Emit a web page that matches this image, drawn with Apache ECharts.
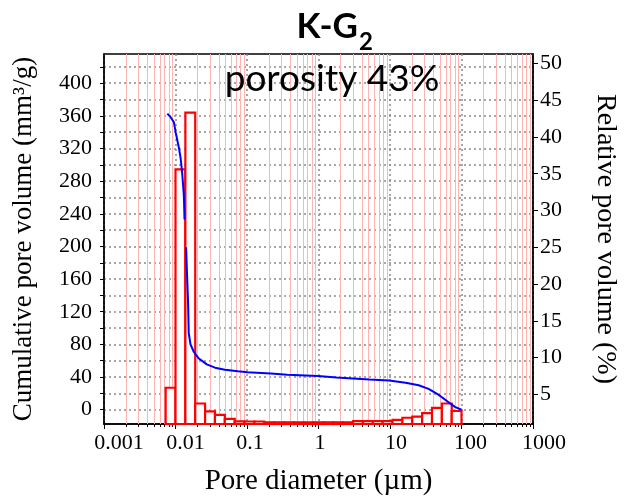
<!DOCTYPE html>
<html>
<head>
<meta charset="utf-8">
<script src="https://cdn.jsdelivr.net/npm/echarts@6/dist/echarts.min.js"></script>
<style>
  html, body { margin: 0; padding: 0; background: #fff; }
  #chart { width: 627px; height: 501px; }
</style>
</head>
<body>
<div id="chart"></div>
<script>
// Histogram bins of pore diameter (µm): lower / upper edge of each bar
const binLower = [0.00728, 0.01, 0.01374, 0.01888, 0.02594, 0.03564, 0.04897, 0.0673, 0.0924, 0.127,
  0.1745, 0.2397, 0.329, 0.453, 0.622, 0.854, 1.174, 1.613, 2.216, 3.045,
  4.184, 5.749, 7.90, 10.85, 14.91, 20.49, 28.15, 38.68, 53.14, 73.02];
const binUpper = [0.01, 0.01374, 0.01888, 0.02594, 0.03564, 0.04897, 0.0673, 0.0924, 0.127, 0.1745,
  0.2397, 0.329, 0.453, 0.622, 0.854, 1.174, 1.613, 2.216, 3.045, 4.184,
  5.749, 7.90, 10.85, 14.91, 20.49, 28.15, 38.68, 53.14, 73.02, 100];
// Relative pore volume (%) of each bin
const relativeVolume = [5.9, 35.6, 43.3, 3.76, 2.69, 2.21, 1.67, 1.33, 1.31, 1.31,
  1.2, 1.2, 1.2, 1.2, 1.2, 1.2, 1.2, 1.2, 1.2, 1.35,
  1.35, 1.35, 1.35, 1.53, 1.82, 1.98, 2.45, 3.15, 3.76, 2.74];

// Cumulative intrusion curve: pore diameter (µm) and cumulative volume (mm³/g)
const cumDiameter = [0.00769, 0.0086, 0.0095, 0.01005, 0.0112, 0.0118, 0.0124, 0.0131, 0.01337, 0.0137,
  0.01406, 0.0145, 0.0150, 0.0153, 0.0162, 0.0180, 0.0210, 0.0274, 0.0357, 0.0491,
  0.075, 0.102, 0.216, 0.366, 0.98, 1.79, 5.15, 9.7, 16.5, 25.2,
  34.6, 47.5, 65.3, 80.7, 100];
const cumVolume = [362.7, 358, 352, 340, 320, 308, 290, 262, 233, '-',
  199, 166, 130, 94, 80, 71, 63, 55.5, 51.5, 49,
  47, 46, 44.4, 42.8, 41.2, 39.6, 37.1, 35.7, 33, 29.9,
  25.5, 18.5, 9.5, 3.5, 0];

// Axis tick labels
const xTickLabels = ['0.001', '0.01', '0.1', '1', '10', '100', '1000'];
const leftTickValues = [0, 40, 80, 120, 160, 200, 240, 280, 320, 360, 400];
const leftGridValues = [0, 20, 40, 60, 80, 100, 120, 140, 160, 180, 200, 220, 240, 260, 280, 300, 320, 340, 360, 380, 400, 420];
const rightTickValues = [5, 10, 15, 20, 25, 30, 35, 40, 45, 50];

// Axis ranges
const X_MIN = 0.001, X_MAX = 1000;
const LEFT_MIN = -17.5, LEFT_MAX = 435.7;
const RIGHT_MIN = 0.97, RIGHT_MAX = 51.28;

// light red minor grid lines at 2..9 of each decade
const minorX = [];
for (let e = -3; e < 3; e++) {
  for (let k = 2; k <= 9; k++) minorX.push([+(k * Math.pow(10, e)).toPrecision(3), 0]);
}

// the diameter labels sit a little right of their ticks; a left pad shifts each one
const xLabelPad = [30, 20, 6, 3, 12, 18, 22];
const xLabelRich = {};
xLabelPad.forEach((p, i) => {
  xLabelRich['t' + i] = { fontFamily: 'Liberation Serif', fontSize: 22, color: '#000', padding: [0, 0, 0, p] };
});

const serif = 'Liberation Serif';
const chart = echarts.init(document.getElementById('chart'));

chart.setOption({
  animation: false,
  backgroundColor: '#fff',
  grid: {
    left: 104, right: 88, top: 54, bottom: 72.5,
    show: true, borderColor: '#000', borderWidth: 1.5, backgroundColor: 'transparent'
  },
  xAxis: [{
    type: 'log', logBase: 10, min: X_MIN, max: X_MAX,
    axisLine: { show: true, onZero: false, lineStyle: { color: '#000', width: 1.5 } },
    axisTick: { show: true, length: 5, lineStyle: { color: '#000', width: 1 } },
    axisLabel: {
      fontFamily: serif, fontSize: 22, color: '#000', margin: 8,
      rich: xLabelRich,
      formatter: v => {
        const i = Math.round(Math.log10(v)) + 3;
        return '{t' + i + '|' + xTickLabels[i] + '}';
      }
    },
    splitLine: { show: true, lineStyle: { color: '#8a8a8a', width: 1.5, type: [2, 3] } },
    name: 'Pore diameter (µm)', nameLocation: 'middle', nameGap: 43,
    nameTextStyle: { fontFamily: serif, fontSize: 29, color: '#000' }
  }],
  yAxis: [{
    type: 'value', position: 'left', min: LEFT_MIN, max: LEFT_MAX,
    axisLine: { show: true, onZero: false, lineStyle: { color: '#000', width: 1.5 } },
    axisTick: { show: true, customValues: leftGridValues, length: 4, lineStyle: { color: '#000' } },
    axisLabel: { customValues: leftTickValues, fontFamily: serif, fontSize: 22, color: '#000', margin: 12,
      padding: [6, 0, 0, 0] },
    splitLine: { show: true, lineStyle: { color: '#8a8a8a', width: 1.5, type: [2, 3] } },
    name: 'Cumulative pore volume (mm³/g)', nameLocation: 'middle', nameGap: 67, nameRotate: 90,
    nameTextStyle: { fontFamily: serif, fontSize: 27, color: '#000' }
  }, {
    type: 'value', position: 'right', min: RIGHT_MIN, max: RIGHT_MAX,
    axisLine: { show: true, onZero: false, lineStyle: { color: '#000', width: 1.5 } },
    axisTick: { show: true, customValues: rightTickValues, length: 5, lineStyle: { color: '#000' } },
    axisLabel: { customValues: rightTickValues, fontFamily: serif, fontSize: 22, color: '#000', margin: 7,
      padding: [3, 0, 0, 0] },
    splitLine: { show: false },
    name: 'Relative pore volume (%)', nameLocation: 'middle', nameGap: 58, nameRotate: -90,
    nameTextStyle: { fontFamily: serif, fontSize: 28, color: '#000' }
  }],
  series: [{
    // minor vertical grid lines + small ticks on the diameter axis
    type: 'custom', name: 'minorGrid', xAxisIndex: 0, yAxisIndex: 0, z: 1, silent: true,
    data: minorX, encode: { x: 0, y: 1 },
    renderItem(params, api) {
      const x = Math.round(api.coord([api.value(0), 0])[0]) + 0.5;
      const top = api.coord([api.value(0), LEFT_MAX])[1];
      const bottom = api.coord([api.value(0), LEFT_MIN])[1];
      return {
        type: 'group', children: [
          { type: 'line', shape: { x1: x, y1: top, x2: x, y2: bottom }, style: { stroke: '#ffb4b4', lineWidth: 1 } },
          { type: 'line', shape: { x1: x, y1: bottom, x2: x, y2: bottom + 3 }, style: { stroke: '#000', lineWidth: 1 } }
        ]
      };
    }
  }, {
    // relative pore volume histogram
    type: 'custom', name: 'relative', xAxisIndex: 0, yAxisIndex: 1, z: 3,
    data: binLower.map((lo, i) => [lo, binUpper[i], relativeVolume[i]]),
    encode: { x: [0, 1], y: 2 },
    renderItem(params, api) {
      const p0 = api.coord([api.value(0), api.value(2)]);
      const p1 = api.coord([api.value(1), RIGHT_MIN]);
      return {
        type: 'rect',
        shape: { x: p0[0], y: p0[1], width: p1[0] - p0[0], height: p1[1] - p0[1] },
        style: { fill: '#fff', stroke: '#ff0000', lineWidth: 2.2 }
      };
    }
  }, {
    // cumulative pore volume curve
    type: 'line', name: 'cumulative', xAxisIndex: 0, yAxisIndex: 0, z: 4,
    data: cumDiameter.map((d, i) => [d, cumVolume[i]]),
    showSymbol: false, smooth: false, connectNulls: false,
    lineStyle: { color: '#0000ff', width: 2 }
  }],
  graphic: [{
    type: 'text', z: 10,
    style: { x: 358, y: 27, text: 'K-G', textAlign: 'right', textVerticalAlign: 'middle',
      font: 'bold 35px Lato', fill: '#000' }
  }, {
    type: 'text', z: 10,
    style: { x: 359, y: 42, text: '2', textAlign: 'left', textVerticalAlign: 'middle',
      font: 'bold 24px Lato', fill: '#000' }
  }, {
    type: 'text', z: 10,
    style: { x: 332, y: 79, text: 'porosity 43%', textAlign: 'center', textVerticalAlign: 'middle',
      font: '37px Lato', fill: '#000' }
  }]
});
</script>
</body>
</html>
